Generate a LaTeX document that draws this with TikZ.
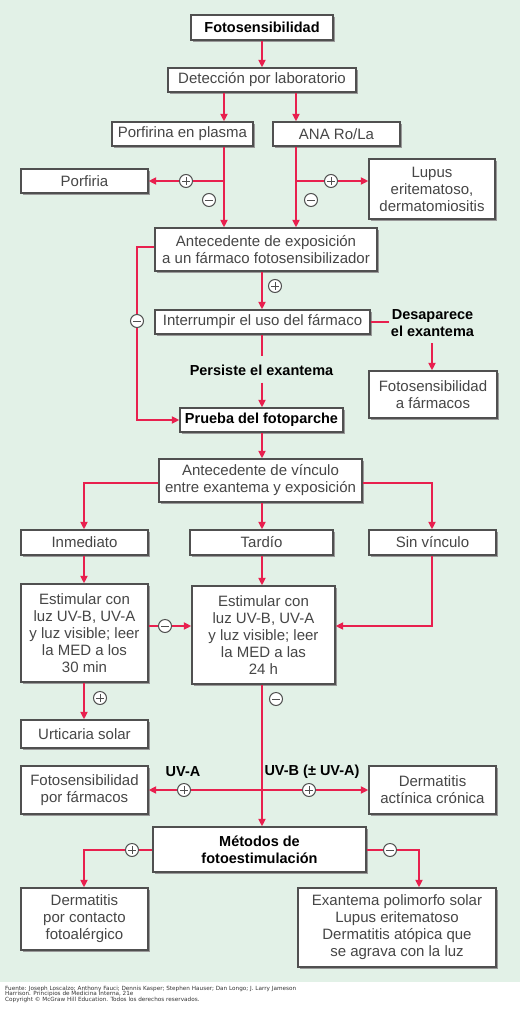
\documentclass[tikz,border=0pt]{standalone}
\usepackage{fontspec}
\setmainfont{Liberation Sans}
\newfontfamily\footfont{DejaVu Sans}
\usetikzlibrary{arrows.meta,shadows,calc}
\definecolor{bg}{RGB}{226,241,231}
\definecolor{lnred}{RGB}{232,32,78}
\definecolor{bord}{RGB}{80,80,80}
\definecolor{txt}{RGB}{70,70,70}
\tikzset{
 box/.style={draw=bord, line width=1.3pt, fill=white, inner sep=0pt, align=center, text=txt,
   font=\fontsize{15}{17}\selectfont,
   drop shadow={shadow xshift=2pt, shadow yshift=-2pt, fill=black!40, opacity=1}},
 bbox/.style={box, text=black, font=\fontsize{14.5}{17}\selectfont\bfseries},
 conn/.style={draw=lnred, line width=1.9pt},
 arr/.style={conn, -{Triangle[length=7.5pt,width=7pt]}},
 sgn/.style={circle, draw=bord, fill=white, line width=1pt, minimum size=13pt, inner sep=0pt},
 plussign/.style={sgn, path picture={\draw[bord, line width=1pt]
   ($(path picture bounding box.center)+(-3.8,0)$) -- ++(7.6,0)
   ($(path picture bounding box.center)+(0,-3.8)$) -- ++(0,7.6);}},
 minussign/.style={sgn, path picture={\draw[bord, line width=1pt]
   ($(path picture bounding box.center)+(-3.8,0)$) -- ++(7.6,0);}},
 lbl/.style={font=\fontsize{14.5}{17}\selectfont\bfseries, text=black, align=center, inner sep=0pt},
}
\begin{document}
\begin{tikzpicture}[x=1pt,y=-1pt]
\useasboundingbox (0,0) rectangle (520,1010);
\fill[bg] (0,0) rectangle (520,982);

% columns / rows
\coordinate (xA) at (224,0);
\coordinate (xB) at (296,0);
\coordinate (xC) at (137,0);
\coordinate (xM) at (262,0);
\coordinate (xL) at (84,0);
\coordinate (xR) at (432,0);
\coordinate (x419) at (419,0);
\coordinate (yP) at (0,181);
\coordinate (yL) at (0,247);
\coordinate (yV) at (0,483);
\coordinate (yS) at (0,626);
\coordinate (yU) at (0,790);
\coordinate (yM) at (0,850);

% boxes
\node[bbox, minimum width=142, minimum height=25] (foto) at (262,27.5) {Fotosensibilidad};
\node[box, minimum width=188, minimum height=24] (det) at (262,80) {Detección por laboratorio};
\node[box, minimum width=141, minimum height=24] (porf) at (182.5,134) {Porfirina en plasma};
\node[box, minimum width=127, minimum height=24] (ana) at (336.5,134) {ANA Ro/La};
\node[box, minimum width=127, minimum height=24] (porfiria) at (84.5,181) {Porfiria};
\node[box, minimum width=126, minimum height=60] (lupus) at (432,189) {Lupus\\eritematoso,\\dermatomiositis};
\node[box, minimum width=222, minimum height=43] (antex) at (266,249.5) {Antecedente de exposición\\a un fármaco fotosensibilizador};
\node[box, minimum width=215, minimum height=24] (interr) at (262.5,322) {Interrumpir el uso del fármaco};
\node[box, minimum width=128, minimum height=47] (fotofarm) at (433,394.5) {Fotosensibilidad\\a fármacos};
\node[bbox, minimum width=163, minimum height=24] (prueba) at (261.5,420) {Prueba del fotoparche};
\node[box, minimum width=203, minimum height=43] (antvin) at (260.5,480.5) {Antecedente de vínculo\\entre exantema y exposición};
\node[box, minimum width=127, minimum height=25] (inmed) at (84.5,542.5) {Inmediato};
\node[box, minimum width=143, minimum height=25] (tardio) at (261.5,542.5) {Tardío};
\node[box, minimum width=127, minimum height=25] (sinv) at (432.5,542.5) {Sin vínculo};
\node[box, minimum width=127, minimum height=98] (est1) at (84.5,633) {Estimular con\\luz UV-B, UV-A\\y luz visible; leer\\la MED a los\\30 min};
\node[box, minimum width=143, minimum height=98] (est2) at (263.5,635) {Estimular con\\luz UV-B, UV-A\\y luz visible; leer\\la MED a las\\24 h};
\node[box, minimum width=127, minimum height=28] (urtic) at (84.5,734) {Urticaria solar};
\node[box, minimum width=127, minimum height=48] (fotopor) at (84.5,790) {Fotosensibilidad\\por fármacos};
\node[box, minimum width=127, minimum height=48] (dermact) at (432.5,790) {Dermatitis\\actínica crónica};
\node[bbox, minimum width=213, minimum height=45] (metodos) at (259.5,849.5) {Métodos de\\fotoestimulación};
\node[box, minimum width=127, minimum height=62] (dermcont) at (84.5,919) {Dermatitis\\por contacto\\fotoalérgico};
\node[box, minimum width=198, minimum height=79] (exant) at (397,927.5) {Exantema polimorfo solar\\Lupus eritematoso\\Dermatitis atópica que\\se agrava con la luz};

% labels
\node[lbl] (desap) at (432.5,323.5) {Desaparece\\el exantema};
\node[lbl] (pers) at (261.5,370) {Persiste el exantema};
\node[lbl] (uva) at (183,772) {UV-A};
\node[lbl] (uvb) at (312,772) {UV-B (± UV-A)};

% connectors
\draw[arr] (foto.south) -- (det.north);
\draw[arr] (det.south -| xA) -- (porf.north -| xA);
\draw[arr] (det.south -| xB) -- (ana.north -| xB);
\draw[arr] (porf.south -| xA) -- (antex.north -| xA);
\draw[arr] (xA |- porfiria.east) -- (porfiria.east);
\draw[arr] (ana.south -| xB) -- (antex.north -| xB);
\draw[arr] (xB |- yP) -- (lupus.west |- yP);
\draw[arr] (antex.south -| xM) -- (interr.north -| xM);
\draw[arr] (antex.west |- yL) -- (xC |- yL) -- (xC |- prueba.west) -- (prueba.west);
\draw[conn] (interr.east) -- ++(18,0) coordinate (dend);
\draw[arr, shorten <=6pt] (desap.south -| xR) -- (fotofarm.north -| xR);
\draw[conn, shorten >=8pt] (interr.south -| xM) -- (pers.north -| xM);
\draw[arr, shorten <=7pt] (pers.south -| xM) -- (prueba.north -| xM);
\draw[arr] (prueba.south -| xM) -- (antvin.north -| xM);
\draw[arr] (antvin.west |- yV) -| (inmed.north -| xL);
\draw[arr] (antvin.east |- yV) -| (sinv.north -| xR);
\draw[arr] (antvin.south -| xM) -- (tardio.north -| xM);
\draw[arr] (inmed.south -| xL) -- (est1.north -| xL);
\draw[arr] (tardio.south -| xM) -- (est2.north -| xM);
\draw[arr] (sinv.south -| xR) |- (est2.east |- yS);
\draw[arr] (est1.east |- yS) -- (est2.west |- yS);
\draw[arr] (est1.south -| xL) -- (urtic.north -| xL);
\draw[arr] (est2.south -| xM) -- (metodos.north -| xM);
\draw[arr] (xM |- yU) -- (fotopor.east |- yU);
\draw[arr] (xM |- yU) -- (dermact.west |- yU);
\draw[arr] (metodos.west |- yM) -| (dermcont.north -| xL);
\draw[arr] (metodos.east |- yM) -| (exant.north -| x419);

% signs
\node[plussign] (s1) at (186,181) {};
\node[minussign] (s2) at (209,200) {};
\node[plussign] (s3) at (331,181) {};
\node[minussign] (s4) at (311,200) {};
\node[plussign] (s5) at (275,286) {};
\node[minussign] (s6) at (137,321) {};
\node[minussign] (s7) at (165,626) {};
\node[plussign] (s8) at (100,698) {};
\node[minussign] (s9) at (276,699) {};
\node[plussign] (s10) at (184,790) {};
\node[plussign] (s11) at (309,790) {};
\node[plussign] (s12) at (132,850) {};
\node[minussign] (s13) at (390,850) {};

% footer
\node[anchor=north west, inner sep=0pt, align=left, text=black!80,
  font=\footfont\fontsize{5.7}{5.9}\selectfont] (foot) at (5,985.5)
  {Fuente: Joseph Loscalzo; Anthony Fauci; Dennis Kasper; Stephen Hauser; Dan Longo; J. Larry Jameson\\
   Harrison. Principios de Medicina Interna, 21e\\
   Copyright © McGraw Hill Education. Todos los derechos reservados.};
\end{tikzpicture}
\end{document}
